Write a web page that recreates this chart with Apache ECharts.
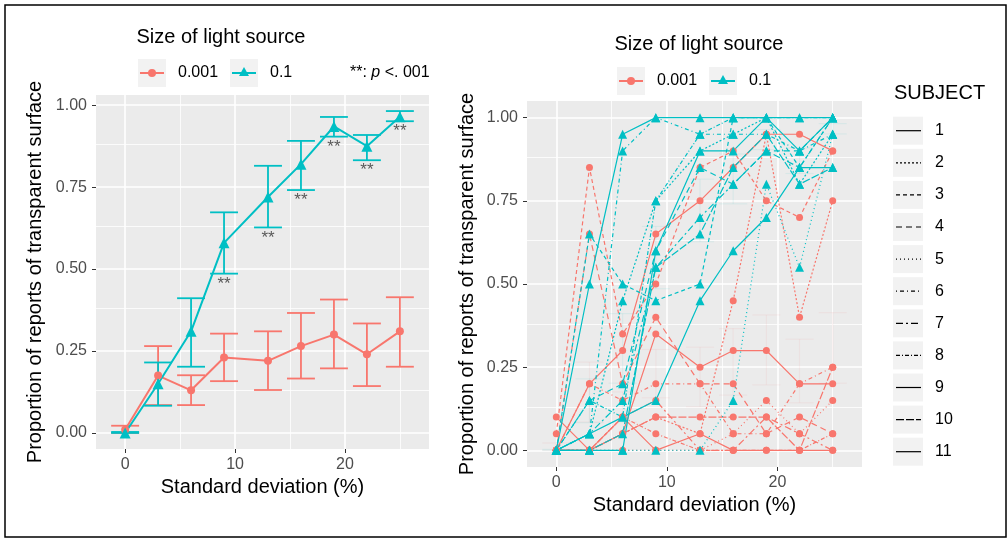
<!DOCTYPE html>
<html>
<head>
<meta charset="utf-8">
<script src="https://cdn.jsdelivr.net/npm/echarts@6/dist/echarts.min.js"></script>
<style>
  html, body { margin: 0; padding: 0; background: #fff; }
  #chart { width: 1008px; height: 539px; }
</style>
</head>
<body>
<div id="chart"></div>
<script>
// standard deviation levels (%)
const sdLevels = [0, 3, 6, 9, 13, 16, 19, 22, 25];

// group means and error bars, size 0.001
const meanSmall = [0.01, 0.175, 0.13, 0.23, 0.22, 0.265, 0.30, 0.24, 0.31];
const lowSmall = [0.0, 0.085, 0.085, 0.158, 0.131, 0.166, 0.197, 0.143, 0.202];
const highSmall = [0.022, 0.265, 0.176, 0.303, 0.31, 0.366, 0.407, 0.334, 0.414];

// group means and error bars, size 0.1
const meanLarge = [0.0, 0.15, 0.31, 0.58, 0.72, 0.82, 0.935, 0.875, 0.965];
const lowLarge = [0.0, 0.083, 0.202, 0.486, 0.627, 0.741, 0.904, 0.832, 0.951];
const highLarge = [0.003, 0.215, 0.411, 0.673, 0.815, 0.891, 0.964, 0.909, 0.982];

const sigMarks = ['', '', '', '**', '**', '**', '**', '**', '**'];

// per-subject proportions, size 0.001
const subjectSmall = [
  [0, 0.2, 0.3, 0.65, 0.75, 0.85, 0.95, 0.95, 0.9],
  [0, 0, 0.05, 0.1, 0.05, 0.45, 0.95, 0.4, 0.75],
  [0.05, 0.85, 0.35, 0.5, 0.85, 0.9, 0.75, 0.7, 0.9],
  [0, 0.65, 0.2, 0.4, 0.2, 0.2, 0.05, 0.1, 0.05],
  [0, 0, 0, 0, 0, 0.05, 0.15, 0.05, 0.15],
  [0, 0.2, 0.15, 0.2, 0.2, 0.05, 0.05, 0.2, 0.25],
  [0, 0, 0.1, 0.15, 0, 0, 0.1, 0.05, 0],
  [0, 0, 0.1, 0.05, 0, 0, 0, 0, 0.05],
  [0.1, 0, 0.05, 0.35, 0.25, 0.3, 0.3, 0.2, 0.2],
  [0, 0, 0.05, 0.1, 0.1, 0.1, 0.1, 0, 0.25],
  [0, 0, 0.1, 0, 0.05, 0, 0, 0, 0]
];

// per-subject proportions, size 0.1
const subjectLarge = [
  [0, 0.5, 0.95, 1, 1, 1, 1, 1, 1],
  [0, 0.05, 0.45, 0.75, 0.9, 0.95, 1, 0.8, 0.95],
  [0, 0.65, 0.5, 0.45, 0.5, 1, 1, 0.85, 1],
  [0, 0.15, 0.2, 0.6, 0.85, 0.8, 0.9, 0.9, 1],
  [0, 0, 0, 0, 0, 0.15, 0.8, 0.55, 0.95],
  [0, 0.05, 0.9, 1, 0.95, 0.95, 0.95, 0.9, 0.95],
  [0, 0.05, 0.15, 0.55, 0.7, 0.8, 0.9, 0.85, 1],
  [0, 0.15, 0.1, 0.75, 0.95, 1, 1, 1, 1],
  [0, 0.05, 0.1, 0.15, 0.45, 0.6, 0.7, 0.85, 0.85],
  [0, 0, 0.05, 0.55, 0.65, 0.85, 0.95, 0.8, 0.85],
  [0, 0, 0, 0.6, 0.9, 0.9, 1, 0.9, 1]
];

const subjectNames = ['1', '2', '3', '4', '5', '6', '7', '8', '9', '10', '11'];
const xTicks = [0, 10, 20];
const xMinor = [5, 15, 25];
const yTicks = [0, 0.25, 0.5, 0.75, 1];
const yMinor = [0.125, 0.375, 0.625, 0.875];

// styling
const RED = '#F8766D';
const TEAL = '#00BFC4';
const FONT = 'Liberation Sans';
const dashes = ['solid', [2, 2], [4, 3], [6, 4], [1, 3], [1, 3, 4, 3], [7, 3, 2, 3], [4, 2, 1, 2], 'solid', [8, 2], 'solid'];
const CAP = 1.27;

let chart = echarts.init(document.getElementById('chart'));

function gridLines() {
  let d = [];
  xTicks.forEach(v => d.push({ xAxis: v, lineStyle: { width: 1.6 } }));
  xMinor.forEach(v => d.push({ xAxis: v, lineStyle: { width: 0.8 } }));
  yTicks.forEach(v => d.push({ yAxis: v, lineStyle: { width: 1.6 } }));
  yMinor.forEach(v => d.push({ yAxis: v, lineStyle: { width: 0.8 } }));
  return {
    silent: true, symbol: ['none', 'none'], label: { show: false }, z: 1,
    lineStyle: { color: '#ffffff', type: 'solid' }, emphasis: { disabled: true },
    data: d
  };
}

function errorBars(idx, low, high, color, opacity, width) {
  return {
    type: 'custom', xAxisIndex: idx, yAxisIndex: idx, silent: true, z: 2,
    data: sdLevels.map((x, i) => [x, low[i], high[i]]),
    renderItem: function (params, api) {
      let x = api.value(0);
      let a = api.coord([x, api.value(1)]);
      let b = api.coord([x, api.value(2)]);
      let hw = api.size([CAP, 0])[0];
      let st = { stroke: color, lineWidth: width, opacity: opacity };
      return {
        type: 'group', children: [
          { type: 'line', shape: { x1: a[0], y1: a[1], x2: b[0], y2: b[1] }, style: st },
          { type: 'line', shape: { x1: a[0] - hw, y1: a[1], x2: a[0] + hw, y2: a[1] }, style: st },
          { type: 'line', shape: { x1: b[0] - hw, y1: b[1], x2: b[0] + hw, y2: b[1] }, style: st }
        ]
      };
    }
  };
}

function xAxisOf(idx, gap) {
  return {
    gridIndex: idx, type: 'value', min: -2.65, max: 27.65,
    axisLine: { show: false, onZero: false },
    axisTick: { show: true, customValues: xTicks, length: 4, lineStyle: { color: '#333333', width: 1 } },
    axisLabel: { customValues: xTicks, color: '#4D4D4D', fontSize: 16, fontFamily: FONT, margin: 8 },
    splitLine: { show: false },
    name: 'Standard deviation (%)', nameLocation: 'middle', nameGap: gap,
    nameTextStyle: { color: '#000', fontSize: 20, fontFamily: FONT }
  };
}

function yAxisOf(idx, min, max, gap) {
  return {
    gridIndex: idx, type: 'value', min: min, max: max,
    axisLine: { show: false, onZero: false },
    axisTick: { show: true, customValues: yTicks, length: 4, lineStyle: { color: '#333333', width: 1 } },
    axisLabel: { customValues: yTicks, color: '#4D4D4D', fontSize: 16, fontFamily: FONT, margin: 9,
      formatter: v => v.toFixed(2) },
    splitLine: { show: false },
    name: 'Proportion of reports of transparent surface', nameLocation: 'middle', nameGap: gap,
    nameTextStyle: { color: '#000', fontSize: 20, fontFamily: FONT }
  };
}

let series = [];

// left panel
series.push({ type: 'line', xAxisIndex: 0, yAxisIndex: 0, data: [], markLine: gridLines() });
series.push(errorBars(0, lowSmall, highSmall, RED, 1, 1.8));
series.push({
  type: 'line', xAxisIndex: 0, yAxisIndex: 0, z: 3,
  data: sdLevels.map((x, i) => [x, meanSmall[i]]),
  symbol: 'circle', symbolSize: 8, showSymbol: true,
  itemStyle: { color: RED }, lineStyle: { color: RED, width: 2 }
});
series.push(errorBars(0, lowLarge, highLarge, TEAL, 1, 1.8));
series.push({
  type: 'line', xAxisIndex: 0, yAxisIndex: 0, z: 3,
  data: sdLevels.map((x, i) => [x, meanLarge[i]]),
  symbol: 'triangle', symbolSize: 11, showSymbol: true,
  itemStyle: { color: TEAL }, lineStyle: { color: TEAL, width: 2 }
});
series.push({
  type: 'scatter', xAxisIndex: 0, yAxisIndex: 0, z: 4, symbolSize: 0, silent: true,
  data: sdLevels.map((x, i) => [x, lowLarge[i], sigMarks[i]]).filter(d => d[2] !== ''),
  label: { show: true, position: 'bottom', distance: 2, formatter: p => p.data[2],
    color: '#333333', fontSize: 17, fontFamily: FONT }
});

// right panel
series.push({ type: 'line', xAxisIndex: 1, yAxisIndex: 1, data: [], markLine: gridLines() });
series.push(errorBars(1, lowSmall, highSmall, RED, 0.08, 1.2));
series.push(errorBars(1, lowLarge, highLarge, TEAL, 0.08, 1.2));
subjectSmall.forEach((vals, s) => {
  series.push({
    type: 'line', xAxisIndex: 1, yAxisIndex: 1, z: 3,
    data: sdLevels.map((x, i) => [x, vals[i]]),
    symbol: 'circle', symbolSize: 7, showSymbol: true,
    itemStyle: { color: RED }, lineStyle: { color: RED, width: 1.2, type: dashes[s] }
  });
});
subjectLarge.forEach((vals, s) => {
  series.push({
    type: 'line', xAxisIndex: 1, yAxisIndex: 1, z: 3,
    data: sdLevels.map((x, i) => [x, vals[i]]),
    symbol: 'triangle', symbolSize: 9, showSymbol: true,
    itemStyle: { color: TEAL }, lineStyle: { color: TEAL, width: 1.2, type: dashes[s] }
  });
});

// legends drawn as graphics
function sizeLegend(titleX, titleY, redBoxX, tealBoxX, keyY) {
  let els = [];
  els.push({ type: 'text', x: titleX, y: titleY, style: { text: 'Size of light source', font: '20px ' + FONT, fill: '#000', textAlign: 'center', textVerticalAlign: 'middle' } });
  [[redBoxX, RED, '0.001'], [tealBoxX, TEAL, '0.1']].forEach(([bx, c, t], k) => {
    els.push({ type: 'rect', shape: { x: bx, y: keyY - 14, width: 28, height: 28 }, style: { fill: '#F2F2F2' } });
    els.push({ type: 'line', shape: { x1: bx + 2, y1: keyY, x2: bx + 26, y2: keyY }, style: { stroke: c, lineWidth: 2 } });
    if (k === 0) {
      els.push({ type: 'circle', shape: { cx: bx + 14, cy: keyY, r: 4 }, style: { fill: c } });
    } else {
      els.push({ type: 'polygon', shape: { points: [[bx + 14, keyY - 6], [bx + 19, keyY + 3], [bx + 9, keyY + 3]] }, style: { fill: c } });
    }
    els.push({ type: 'text', x: bx + 40, y: keyY, style: { text: t, font: '16px ' + FONT, fill: '#000', textAlign: 'left', textVerticalAlign: 'middle' } });
  });
  return els;
}

let graphics = [];
graphics = graphics.concat(sizeLegend(221, 37, 138, 230, 73));
graphics = graphics.concat(sizeLegend(699, 44, 617, 709, 81));
graphics.push({
  type: 'text', x: 350, y: 73,
  style: {
    text: '**: {i|p} <. 001', font: '16px ' + FONT, fill: '#000', textAlign: 'left', textVerticalAlign: 'middle',
    rich: { i: { fontStyle: 'italic', fontSize: 16, fontFamily: FONT } }
  }
});
graphics.push({ type: 'text', x: 894, y: 93, style: { text: 'SUBJECT', font: '20px ' + FONT, fill: '#000', textAlign: 'left', textVerticalAlign: 'middle' } });
subjectNames.forEach((name, s) => {
  let cy = 130.7 + s * 32.1;
  graphics.push({ type: 'rect', shape: { x: 893, y: cy - 14, width: 30, height: 28 }, style: { fill: '#F2F2F2' } });
  graphics.push({ type: 'line', shape: { x1: 896, y1: cy, x2: 921, y2: cy }, style: { stroke: '#000', lineWidth: 1.2, lineDash: dashes[s] === 'solid' ? null : dashes[s] } });
  graphics.push({ type: 'text', x: 935, y: cy, style: { text: name, font: '16px ' + FONT, fill: '#000', textAlign: 'left', textVerticalAlign: 'middle' } });
});
graphics.push({ type: 'rect', shape: { x: 5, y: 5, width: 1001, height: 532 }, style: { fill: 'none', stroke: '#000', lineWidth: 1.5 }, z: 100 });

let option = {
  animation: false,
  backgroundColor: '#ffffff',
  grid: [
    { left: 96, top: 95, right: 579, bottom: 90, show: true, backgroundColor: '#EBEBEB', borderWidth: 0 },
    { left: 527, top: 101, right: 146, bottom: 72, show: true, backgroundColor: '#EBEBEB', borderWidth: 0 }
  ],
  xAxis: [xAxisOf(0, 27), xAxisOf(1, 28)],
  yAxis: [yAxisOf(0, -0.049, 1.031, 51), yAxisOf(1, -0.05, 1.05, 50)],
  series: series,
  graphic: graphics
};
chart.setOption(option);
</script>
</body>
</html>
